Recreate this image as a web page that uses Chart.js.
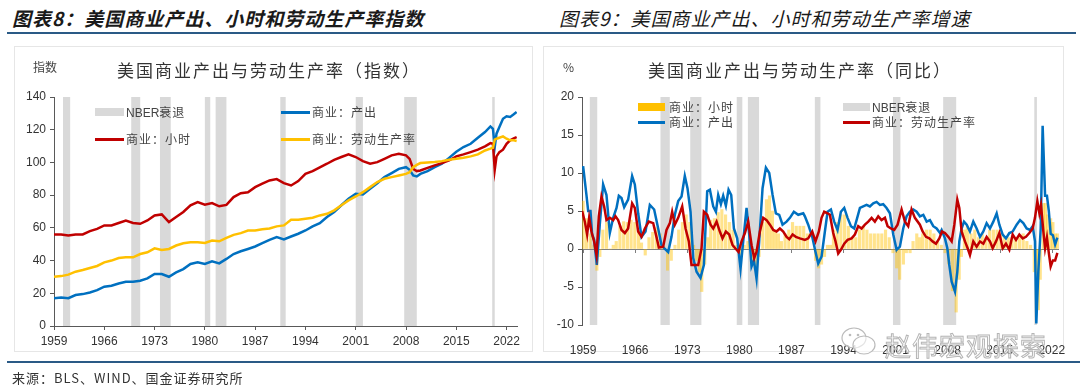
<!DOCTYPE html>
<html>
<head>
<meta charset="utf-8">
<script src="https://cdn.jsdelivr.net/npm/chart.js@4.4.1/dist/chart.umd.min.js"></script>
<style>
  body { margin: 0; background: #fff; width: 1080px; height: 386px; position: relative; overflow: hidden;
         font-family: "Noto Sans CJK SC", sans-serif; color: #333; }
  .abs { position: absolute; white-space: nowrap; }
  canvas { position: absolute; top: 0; }
  .panel { position: absolute; border: 1px solid #e6e6e6; box-sizing: border-box; }
  .head { font-size: 19px; font-style: italic; letter-spacing: 1px; color: #1a1a1a; top: 4px; }
  .ctitle { font-size: 17px; letter-spacing: 2px; color: #333; top: 57px; transform: translateX(-50%); }
  .unit { font-size: 12px; color: #444; top: 58px; }
  .lg { position: absolute; font-size: 12px; letter-spacing: 1px; color: #444; line-height: 14px; }
  .lg i { position: absolute; display: block; }
  .lg b { font-family: "Liberation Sans", Arial, sans-serif; font-weight: normal; letter-spacing: 0; }
</style>
</head>
<body>
<div class="abs head" style="left:12px;font-weight:bold;">图表8：美国商业产出、小时和劳动生产率指数</div>
<div class="abs head" style="left:559px;">图表9：美国商业产出、小时和劳动生产率增速</div>
<div class="abs" style="left:7px;top:32px;width:1069px;height:2px;background:#2a5a86;"></div>

<div class="panel" style="left:14px;top:46px;width:519px;height:306px;"></div>
<div class="panel" style="left:543px;top:46px;width:521px;height:306px;"></div>

<canvas id="leftChart" width="540" height="386" style="left:0;"></canvas>
<canvas id="rightChart" width="540" height="386" style="left:540px;"></canvas>

<div class="abs ctitle" style="left:269px;">美国商业产出与劳动生产率（指数）</div>
<div class="abs ctitle" style="left:800px;">美国商业产出与劳动生产率（同比）</div>
<div class="abs unit" style="left:33px;">指数</div>
<div class="abs unit" style="left:563px;">%</div>

<!-- left legend -->
<div class="lg" style="left:95px;top:105px;"><i style="left:0;top:3px;width:29px;height:8px;background:#D9D9D9;"></i><span style="margin-left:31px;"><b>NBER</b>衰退</span></div>
<div class="lg" style="left:281px;top:105px;"><i style="left:0;top:6px;width:29px;height:3px;background:#0070C0;"></i><span style="margin-left:31px;">商业：产出</span></div>
<div class="lg" style="left:95px;top:132px;"><i style="left:0;top:6px;width:29px;height:3px;background:#C00000;"></i><span style="margin-left:31px;">商业：小时</span></div>
<div class="lg" style="left:281px;top:132px;"><i style="left:0;top:6px;width:29px;height:3px;background:#FFC000;"></i><span style="margin-left:31px;">商业：劳动生产率</span></div>

<!-- right legend -->
<div class="lg" style="left:638px;top:100px;"><i style="left:0;top:3px;width:27px;height:8px;background:#FFC000;"></i><span style="margin-left:31px;">商业：小时</span></div>
<div class="lg" style="left:843px;top:100px;"><i style="left:0;top:3px;width:27px;height:8px;background:#D9D9D9;"></i><span style="margin-left:29px;"><b>NBER</b>衰退</span></div>
<div class="lg" style="left:638px;top:115px;"><i style="left:0;top:6px;width:27px;height:3px;background:#0070C0;"></i><span style="margin-left:31px;">商业：产出</span></div>
<div class="lg" style="left:843px;top:115px;"><i style="left:0;top:6px;width:27px;height:3px;background:#C00000;"></i><span style="margin-left:29px;">商业：劳动生产率</span></div>

<!-- watermark -->
<svg class="abs" style="left:840px;top:326px;" width="40" height="32" viewBox="0 0 40 32">
  <ellipse cx="14" cy="12" rx="12" ry="10" fill="rgba(255,255,255,0.6)" stroke="#bbb" stroke-width="1.2"/>
  <ellipse cx="24" cy="19" rx="11" ry="9" fill="rgba(255,255,255,0.6)" stroke="#bbb" stroke-width="1.2"/>
  <circle cx="10" cy="9" r="1.3" fill="#bbb"/><circle cx="18" cy="9" r="1.3" fill="#bbb"/>
</svg>
<div class="abs" style="left:885px;top:326px;font-size:26px;color:rgba(255,255,255,0.55);-webkit-text-stroke:1px #b5b5b5;letter-spacing:1px;">赵伟宏观探索</div>

<div class="abs" style="left:7px;top:361px;width:1073px;height:2px;background:#2a5a86;"></div>
<div class="abs" style="left:12px;top:368px;font-size:13px;letter-spacing:1px;color:#333;">来源：BLS、WIND、国金证券研究所</div>

<script>
// NBER recessions (decimal years)
const recStart = [1960.25, 1969.75, 1973.75, 1980.0, 1981.5, 1990.5, 2001.0, 2007.75, 2020.0];
const recEnd   = [1961.25, 1971.0, 1975.25, 1980.75, 1983.0, 1991.25, 2002.0, 2009.5, 2020.35];

const xTickYears = [1959, 1966, 1973, 1980, 1987, 1994, 2001, 2008, 2015, 2022];

// ---- left: index levels ----
const leftT = [1959,1960,1961,1962,1963,1964,1965,1966,1967,1968,
  1969,1970,1971,1972,1973,1974,1975,1976,1977,1978,
  1979,1980,1981,1982,1983,1984,1985,1986,1987,1988,
  1989,1990,1991,1992,1993,1994,1995,1996,1997,1998,
  1999,2000,2001,2002,2003,2004,2005,2006,2007,2008,
  2008.5,2009,2009.5,
  2010,2011,2012,2013,2014,2015,2016,2017,2018,2019,
  2019.75,2020.1,2020.35,2020.6,2021,2021.5,2022,2022.5,2023,2023.4];

const outputIdx = [17,17.4,17,18.9,19.5,20.5,21.9,24,24.6,26,
  27,27,27.7,29.1,31.8,31.8,30.1,32.8,34.8,37.9,
  38.9,37.9,39.5,38.3,41,44,45.7,47.1,48.6,50.6,
  52.7,54.3,52.9,54.7,56.4,58.4,60.9,62.9,66.6,69.7,
  73.8,77.8,80.8,80.4,83.9,87.3,91,93.5,96.1,97.1,
  95.5,92,91.4,
  93,94.7,97.1,99.2,102.8,106.5,109.4,111.4,115.1,118.6,
  122,120.6,109.4,117.6,121.6,126.7,128.2,127.8,129.4,130.8];

const hoursIdx = [56,56,55.3,56,56,58,59.4,61.5,61.5,63,
  64.5,63,62.5,64.5,67.6,68.2,63.5,66.6,69.7,73.8,
  75.8,74.2,75.2,73.2,74,78.8,81.2,81.8,84.9,87,
  89,89.8,87.3,85.9,88.6,93,94.7,97,99.2,101.6,
  103.3,104.9,103.3,100.8,99.2,100.2,102.2,104.3,105.3,104.3,
  102.2,96,94.7,
  95.1,96.7,98.2,99.6,101.2,103.7,104.9,106.3,107.8,109.8,
  111.8,111.4,95.5,103.7,106.3,107.8,111.4,113.5,114.7,115.5];

const prodIdx = [30.1,30.5,31.4,33.2,34.2,35.5,36.7,38.9,40,41.6,
  42,42,44,45.1,47.5,46.5,47.1,49.2,50.6,51.2,
  51.2,50.8,52.3,51.8,53.9,55.7,56.8,58.4,58.4,59.2,
  59.6,60.9,61.5,65,65,65.6,66.2,67.6,68.6,70.7,
  73.8,76.8,79.2,81.8,84.9,88,90,91,92,93,
  94,97.1,98.5,
  99.6,100,100.2,100.8,101.6,102.2,102.9,103.7,104.9,107.3,
  108.4,109,113.9,114.5,115.1,115.9,114.5,113.5,113.5,113.1];

// ---- right: YoY % ----
const outT = [1959.35,1959.8,1960.03,1960.34,1960.56,1960.83,1961.19,1961.59,1962.04,1962.49,
  1962.94,1963.39,1963.84,1964.15,1964.51,1964.87,1965.4,1965.94,1966.3,1966.75,
  1967.2,1967.74,1968.32,1968.9,1969.44,1969.89,1970.34,1970.78,1971.23,1971.68,
  1972.13,1972.58,1973.02,1973.38,1973.79,1974.15,1974.6,1975.13,1975.58,1976.03,
  1976.39,1976.84,1977.2,1977.51,1977.87,1978.18,1978.54,1978.9,1979.26,1979.62,
  1980.06,1980.51,1980.87,1981.32,1981.68,1981.99,1982.31,1982.66,1983.02,1983.47,
  1983.92,1984.37,1984.82,1985.26,1985.71,1986.16,1986.7,1987.15,1987.68,1988.27,
  1988.94,1989.16,1989.61,1990.15,1990.59,1990.95,1991.4,1991.85,1992.21,1992.66,
  1993.1,1993.55,1994.0,1994.45,1994.9,1995.35,1995.79,1996.11,1996.56,1997.0,
  1997.45,1997.9,1998.35,1998.8,1999.25,1999.69,2000.14,2000.59,2001.04,2001.49,
  2001.93,2002.38,2002.83,2003.28,2003.73,2004.18,2004.62,2005.08,2005.53,2005.97,
  2006.42,2006.87,2007.32,2007.54,2007.99,2008.31,2008.57,2008.89,2009.34,2009.65,
  2009.92,2010.23,2010.55,2010.91,2011.35,2011.8,2012.25,2012.7,2013.15,2013.59,
  2014.04,2014.49,2014.94,2015.3,2015.75,2016.19,2016.64,2017.09,2017.63,2018.08,
  2018.52,2018.97,2019.42,2019.78,2020.09,2020.27,2020.54,2020.86,2021.12,2021.45,
  2021.7,2021.95,2022.2,2022.5,2022.8,2023.1];
const outYoY = [10.9,7.1,5.0,5.0,1.9,1.2,-2.1,3.2,8.5,7.1,
  2.1,4.1,5.4,7.0,6.7,5.5,6.5,9.6,8.5,4.7,
  1.6,2.3,5.8,5.2,2.7,0.5,0,-0.4,1.6,4.5,
  6.3,6.9,9.6,8.0,4.9,-1.2,-3.0,-3.8,-2.1,7.6,
  7.8,5.6,4.9,7.1,5.9,7.0,5.7,7.8,7.1,2.7,
  1.4,-2.6,1.0,5.4,1.9,-2.3,-1.5,-3.9,1.0,8.0,
  10.7,10.0,7.1,4.7,4.5,3.2,3.6,4.1,4.9,4.5,
  4.7,4.3,3.2,1.6,-0.4,-1.9,-1.0,2.3,4.9,5.2,
  3.6,2.5,4.9,5.4,4.1,3.0,2.7,3.8,5.4,5.6,
  5.8,5.6,6.0,6.2,5.8,5.9,5.4,4.7,1.9,-0.1,
  0.3,2.7,4.3,4.9,5.2,4.9,4.3,4.5,3.6,3.8,
  3.0,2.7,2.1,2.5,1.4,0.1,-2.1,-4.3,-5.6,-3.0,
  1.0,2.7,3.6,3.2,2.3,3.6,2.7,1.6,2.3,3.4,
  2.7,3.6,4.7,3.2,1.9,1.4,2.1,2.3,3.2,3.8,
  3.4,2.7,2.5,3.0,1.0,-9.8,-3.0,2.7,16.2,7.0,
  7.0,5.0,2.0,1.8,0.6,1.5];

const prodT = [1959.22,1959.58,1959.89,1960.16,1960.47,1960.83,1961.15,1961.46,1961.82,1962.18,
  1962.49,1962.94,1963.39,1963.7,1964.06,1964.51,1964.96,1965.4,1965.94,1966.3,
  1966.75,1967.2,1967.65,1968.18,1968.77,1969.21,1969.53,1970.11,1970.56,1971.01,
  1971.32,1971.68,1972.13,1972.67,1973.12,1973.56,1973.92,1974.15,1974.82,1975.27,
  1975.58,1976.03,1976.48,1976.84,1977.29,1977.73,1978.09,1978.54,1978.99,1979.44,
  1979.8,1980.24,1980.65,1981.1,1981.54,1982.0,1982.35,1982.66,1983.11,1983.56,
  1984.01,1984.46,1984.91,1985.35,1985.8,1986.25,1986.7,1987.06,1987.51,1987.95,
  1988.49,1989.16,1989.61,1990.15,1990.59,1991.04,1991.4,1991.76,1992.21,1992.52,
  1992.97,1993.28,1993.64,1994.0,1994.45,1994.9,1995.44,1995.88,1996.33,1996.78,
  1997.23,1997.68,1998.13,1998.57,1999.02,1999.47,1999.92,2000.28,2000.72,2001.17,
  2001.62,2002.16,2002.61,2003.05,2003.5,2003.95,2004.62,2004.99,2005.44,2005.89,
  2006.33,2006.78,2007.23,2007.59,2007.99,2008.44,2008.89,2009.25,2009.65,2009.92,
  2010.23,2010.68,2011.04,2011.35,2011.8,2012.25,2012.7,2013.15,2013.59,2014.04,
  2014.4,2014.85,2015.3,2015.75,2016.19,2016.64,2017.09,2017.54,2017.99,2018.44,
  2018.88,2019.33,2019.78,2020.09,2020.41,2020.68,2020.9,2021.22,2021.45,2021.7,
  2021.95,2022.2,2022.5,2022.8,2023.1];
const prodYoY = [5.0,3.6,1.9,4.1,2.3,1.0,-0.8,4.3,6.9,5.6,
  3.8,4.1,3.8,4.3,3.8,2.5,2.1,2.7,6.0,5.4,
  2.3,1.6,2.7,3.6,3.4,1.6,0.2,0.3,2.5,3.4,
  4.9,3.2,4.1,5.6,2.7,1.0,-2.1,-2.1,-2.1,0.1,
  4.9,4.5,3.2,2.7,3.6,2.3,1.4,2.3,1.9,0.5,
  0.1,-0.4,1.0,2.1,3.6,0.5,-1.2,-0.4,2.3,4.1,
  3.8,3.2,2.5,2.3,2.7,2.3,1.6,1.3,1.9,1.6,
  1.4,1.2,1.4,2.3,1.0,2.3,4.1,4.9,4.7,4.5,
  2.1,1.0,-0.6,-0.1,0.7,1.2,1.4,1.9,3.0,2.7,
  3.2,3.6,4.1,3.6,4.3,3.8,4.1,3.0,2.7,2.5,
  3.2,5.2,3.6,3.0,5.2,4.1,3.2,2.3,1.6,1.4,
  1.0,0.7,1.4,2.3,2.1,1.6,1.0,3.2,6.5,5.4,
  2.3,1.0,0.1,-0.8,1.0,0.3,1.0,0.7,1.6,1.0,
  0.1,1.0,2.1,0.1,0.7,-0.1,1.9,1.2,1.9,1.4,
  1.6,2.1,2.7,4.1,6.3,4.7,5.8,2.3,0.1,1.5,
  -0.5,-2.3,-1.5,-1.5,-0.5];

const hoursT = [1959.35,1959.8,1960.3,1960.8,1961.2,1961.6,1962.0,1962.5,1963.0,1963.4,
  1963.8,1964.3,1964.8,1965.3,1965.8,1966.3,1966.8,1967.2,1967.7,1968.2,
  1968.7,1969.2,1969.7,1970.2,1970.7,1971.2,1971.7,1972.2,1972.7,1973.2,
  1973.7,1974.2,1974.6,1975.0,1975.3,1975.7,1976.1,1976.5,1977.0,1977.5,
  1978.0,1978.5,1979.0,1979.5,1980.0,1980.5,1981.0,1981.5,1982.0,1982.5,
  1983.0,1983.5,1984.0,1984.4,1984.8,1985.2,1985.6,1986.0,1986.5,1987.0,
  1987.5,1988.0,1988.5,1989.0,1989.5,1990.1,1990.6,1991.0,1991.4,1991.8,
  1992.2,1992.6,1993.0,1993.5,1994.0,1994.5,1995.0,1995.5,1996.0,1996.5,
  1997.0,1997.5,1998.0,1998.5,1999.0,1999.5,2000.0,2000.5,2001.0,2001.5,
  2001.9,2002.4,2002.8,2003.3,2003.7,2004.2,2004.6,2005.0,2005.5,2006.0,
  2006.5,2007.0,2007.5,2008.0,2008.5,2009.0,2009.5,2009.9,2010.2,2010.6,
  2011.0,2011.5,2012.0,2012.5,2013.0,2013.5,2014.0,2014.5,2015.0,2015.5,
  2016.0,2016.5,2017.0,2017.5,2018.0,2018.5,2019.0,2019.5,2020.0,2020.3,
  2020.55,2020.8,2021.2,2021.5,2021.8,2022.2,2022.5,2022.8,2023.1];
const hoursYoY = [6.3,4,2,0.5,-2.8,-1,2.5,3.5,0,0.5,
  1,3,3.6,3.5,3.8,3.5,2.5,0.8,-0.8,1.5,
  2.2,2.8,2,0.3,-2.8,-1.5,0.5,2.5,3.5,4.5,
  3.5,0.5,-1.5,-3,-5.6,-2,1.5,3.8,4,4.8,
  5.2,4.5,3.5,2.5,0.5,-1.5,0.5,1,-1.5,-2.5,
  -1,3.5,6.5,7,5,2.5,2,1,2,2.5,
  3.5,3,3,3,2,0,-1.5,-2.5,-2,-1,
  0.5,0.5,2.5,3.5,4.5,4.5,3,1.5,1.5,2.5,
  3,2.5,2,2,2,2,2.5,1.5,-0.5,-2.5,
  -4,-2,-0.5,-0.5,1,2,1.5,2,2.5,2.5,
  2,1,0.5,-0.5,-2,-5.5,-8.3,-4,-1,2.5,
  3,2,2.5,1.5,2,1.5,2.5,2.5,2.5,2,
  1.5,1.5,1.5,1.5,1.5,2,1,0.5,-3,-8,
  -8,-4,6,6,4.5,4,3.5,2,2];

function pts(t, v) { return t.map((x, i) => ({ x: x, y: v[i] })); }

const tickFont = { family: "'Liberation Sans', Arial, sans-serif", size: 12 };
const axisGray = '#595959';

const nberPlugin = {
  id: 'nber',
  beforeDraw(chart) {
    const { ctx, chartArea: a, scales: { x } } = chart;
    ctx.save();
    ctx.fillStyle = '#D9D9D9';
    recStart.forEach((s, i) => {
      const x1 = x.getPixelForValue(s);
      const x2 = x.getPixelForValue(recEnd[i]);
      ctx.fillRect(x1, a.top, Math.max(x2 - x1, 2), a.bottom - a.top);
    });
    ctx.restore();
  }
};

// left chart
new Chart(document.getElementById('leftChart'), {
  type: 'line',
  data: {
    datasets: [
      { label: '商业：产出', data: pts(leftT, outputIdx), borderColor: '#0070C0', borderWidth: 2.5, pointRadius: 0, order: 3 },
      { label: '商业：小时', data: pts(leftT, hoursIdx), borderColor: '#C00000', borderWidth: 2.5, pointRadius: 0, order: 2 },
      { label: '商业：劳动生产率', data: pts(leftT, prodIdx), borderColor: '#FFC000', borderWidth: 2.5, pointRadius: 0, order: 1 }
    ]
  },
  options: {
    responsive: false, animation: false, devicePixelRatio: 1,
    layout: { padding: { top: 97, right: 23, bottom: 30, left: 0 } },
    plugins: { legend: { display: false }, title: { display: false }, tooltip: { enabled: false } },
    scales: {
      x: {
        type: 'linear', min: 1959, max: 2023.45, offset: false,
        afterBuildTicks: s => { s.ticks = xTickYears.map(v => ({ value: v })); },
        afterFit: s => { s.height = 30; },
        ticks: { font: tickFont, color: '#333', maxRotation: 0, autoSkip: false, padding: 4, callback: v => String(v) },
        grid: { display: true, drawOnChartArea: false, drawTicks: true, tickLength: 4, tickColor: axisGray },
        border: { display: true, color: axisGray, width: 1 }
      },
      y: {
        min: 0, max: 140,
        afterFit: s => { s.width = 54; },
        ticks: { stepSize: 20, font: tickFont, color: '#333', padding: 4 },
        grid: { display: true, drawOnChartArea: false, drawTicks: true, tickLength: 4, tickColor: axisGray },
        border: { display: true, color: axisGray, width: 1 }
      }
    }
  },
  plugins: [nberPlugin]
});

// right chart
const rightTickOffset = 0.35;
const zeroTicks = {
  id: 'zeroTicks',
  beforeDatasetsDraw(chart) {
    const { ctx, scales: { x, y } } = chart;
    const y0 = y.getPixelForValue(0);
    ctx.save();
    ctx.strokeStyle = '#7f7f7f';
    ctx.lineWidth = 1;
    x.ticks.forEach(t => {
      const px = Math.round(x.getPixelForValue(t.value)) + 0.5;
      ctx.beginPath(); ctx.moveTo(px, y0); ctx.lineTo(px, y0 + 4); ctx.stroke();
    });
    ctx.restore();
  }
};

new Chart(document.getElementById('rightChart'), {
  type: 'line',
  data: {
    datasets: [
      { type: 'bar', label: '商业：小时', data: pts(hoursT, hoursYoY), backgroundColor: 'rgba(255,192,0,0.45)',
        barThickness: 2.5, grouped: false, order: 3 },
      { label: '商业：产出', data: pts(outT, outYoY), borderColor: '#0070C0', borderWidth: 2.5, pointRadius: 0, order: 2 },
      { label: '商业：劳动生产率', data: pts(prodT, prodYoY), borderColor: '#C00000', borderWidth: 2.5, pointRadius: 0, order: 1 }
    ]
  },
  options: {
    responsive: false, animation: false, devicePixelRatio: 1,
    layout: { padding: { top: 97, right: 21, bottom: 31, left: 0 } },
    plugins: { legend: { display: false }, title: { display: false }, tooltip: { enabled: false } },
    scales: {
      x: {
        type: 'linear', min: 1959.2, max: 2023.32, offset: false,
        afterBuildTicks: s => { s.ticks = xTickYears.map(v => ({ value: v + rightTickOffset })); },
        afterFit: s => { s.height = 30; },
        ticks: { font: tickFont, color: '#333', maxRotation: 0, autoSkip: false, padding: 10,
                 callback: v => String(Math.round(v - rightTickOffset)) },
        grid: { display: false },
        border: { display: false }
      },
      y: {
        min: -10, max: 20,
        afterFit: s => { s.width = 42; },
        ticks: { stepSize: 5, font: tickFont, color: '#333', padding: 4 },
        grid: {
          display: true, drawOnChartArea: true, drawTicks: true, tickLength: 4, tickColor: axisGray,
          color: c => (c.tick && c.tick.value === 0 ? '#7f7f7f' : 'rgba(0,0,0,0)'), lineWidth: 1
        },
        border: { display: true, color: axisGray, width: 1 }
      }
    }
  },
  plugins: [nberPlugin, zeroTicks]
});
</script>
</body>
</html>
